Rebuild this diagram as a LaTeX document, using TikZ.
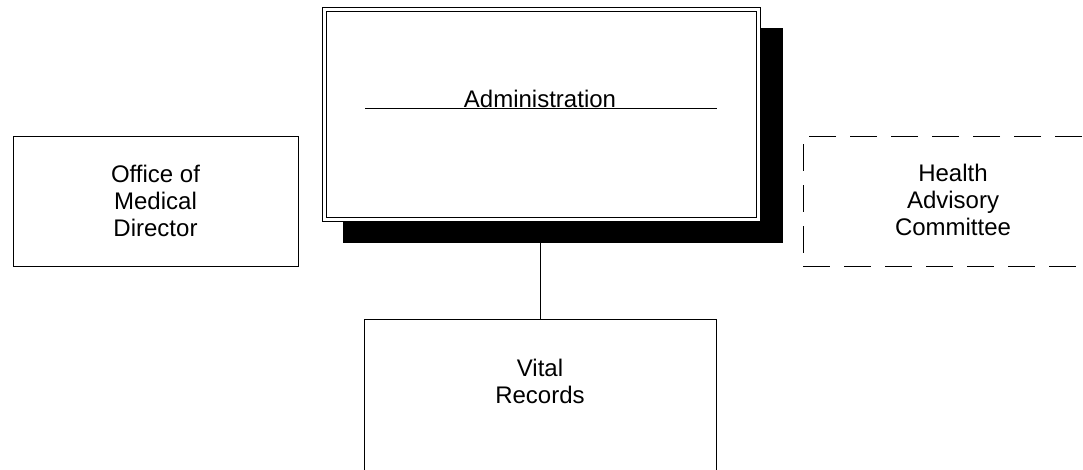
\documentclass[tikz,border=0pt]{standalone}
\usepackage{fontspec}
\setmainfont{Liberation Sans}
\usepackage{tikz}
\usetikzlibrary{arrows, shadows}

\begin{document}
\begin{tikzpicture}[x=1pt, y=-1pt,
    every node/.style={font=\fontsize{24}{27}\selectfont, align=center, inner sep=0pt, outer sep=0pt},
    unitbox/.style={draw, line width=1pt, fill=white},
    adminbox/.style={draw, line width=1pt, double=white, double distance=3pt},
    dashbox/.style={draw, line width=1pt, dash pattern=on 27pt off 14pt, dash phase=0pt}]
\useasboundingbox (0,0) rectangle (1083,469);
\node[fill=black, minimum width=440, minimum height=215] (adminshadow) at (563,135.5) {};
\node[adminbox, fill=white, minimum width=434.5, minimum height=209.5] (admin) at (541.25,114.25) {};
\node[anchor=base] (admintitle) at (540,107) {Administration};
\draw[line width=0.8pt] (365,108) -- (717,108);
\node[unitbox, minimum width=285, minimum height=130] (office) at (155.5,201) {Office of\\Medical\\Director};
\node[dashbox, minimum width=300, minimum height=130] (advisory) at (953,201) {};
\node (advisorytext) at (953,200) {Health\\Advisory\\Committee};
\node[unitbox, minimum width=352, minimum height=214] (vital) at (540,426) {};
\node (vitaltext) at (540,381) {Vital\\Records};
\draw[line width=1pt] (vital.north |- adminshadow.south) -- (vital.north);
\end{tikzpicture}
\end{document}
